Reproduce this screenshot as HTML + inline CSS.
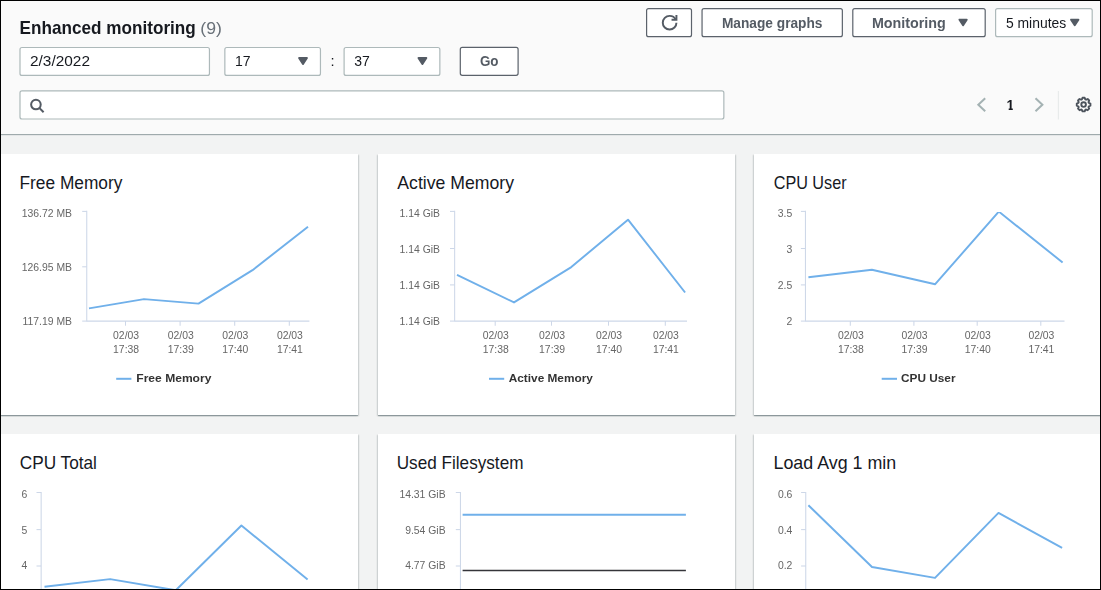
<!DOCTYPE html>
<html lang="en">
<head>
<meta charset="utf-8">
<title>Enhanced monitoring</title>
<style>
html,body{margin:0;padding:0;}
body{width:1101px;height:590px;overflow:hidden;position:relative;background:#f2f3f3;font-family:"Liberation Sans", Arial, sans-serif;color:#16191f;}
.abs{position:absolute;box-sizing:border-box;}
#frame{left:0;top:0;width:1101px;height:590px;border:1px solid #000;z-index:50;pointer-events:none;}
#header{left:0;top:0;width:1101px;height:134px;background:#fafafa;box-shadow:0 1px 1px 0 rgba(0,28,36,.34);}
.card{background:#fff;box-shadow:0 1px 1px 0 rgba(0,28,36,.28),1px 1px 1.5px 0 rgba(0,28,36,.14),-1px 1px 1.5px 0 rgba(0,28,36,.14);}
.h1{font-size:17.7px;font-weight:bold;fill:#16191f;}
.cnt{font-size:17.3px;fill:#687078;}
.bb{fill:#fff;stroke:#5b626b;stroke-width:1.2;}
.ib{fill:#fff;stroke:#adb9ba;stroke-width:1.2;}
.bt{font-size:14.3px;font-weight:bold;fill:#545b64;}
.it{font-size:14.7px;fill:#16191f;}
.pg{font-size:13.8px;font-weight:bold;fill:#16191f;}
.ar{fill:#545b64;stroke:#545b64;stroke-width:2;stroke-linejoin:round;}
svg{position:absolute;overflow:visible;}
svg text{font-family:"Liberation Sans", Arial, sans-serif;}
.al{font-size:10.4px;fill:#666666;}
.lg{font-size:11.6px;font-weight:bold;fill:#333333;}
.ct{font-size:18px;fill:#16191f;}
</style>
</head>
<body>
<div id="header" class="abs"></div>

<!-- header controls -->
<svg width="1101" height="140" viewBox="0 0 1101 140" style="left:0;top:0;z-index:2;">
  <text x="19.6" y="34.0" class="h1" textLength="176.2" lengthAdjust="spacingAndGlyphs">Enhanced monitoring</text>
  <text x="200.3" y="34.0" class="cnt" textLength="21.6" lengthAdjust="spacingAndGlyphs">(9)</text>

  <!-- refresh -->
  <rect x="646.6" y="8.6" width="44.9" height="28.1" rx="2" class="bb"/>
  <g transform="translate(661.8 14.9) scale(0.975)" fill="none" stroke="#545b64" stroke-width="2">
    <path d="M10 5h5V0"/><path d="M15 8a6.957 6.957 0 0 1-7 7 6.957 6.957 0 0 1-7-7 6.957 6.957 0 0 1 7-7 6.87 6.87 0 0 1 6.3 4"/>
  </g>
  <!-- manage graphs -->
  <rect x="702.05" y="8.6" width="140.3" height="28.1" rx="2" class="bb"/>
  <text x="721.9" y="27.7" class="bt" textLength="100.6" lengthAdjust="spacingAndGlyphs">Manage graphs</text>
  <!-- monitoring -->
  <rect x="852.8" y="8.6" width="132.4" height="28.1" rx="2" class="bb"/>
  <text x="871.9" y="27.6" class="bt" textLength="73.9" lengthAdjust="spacingAndGlyphs">Monitoring</text>
  <path d="M959.5 19.7h7.2l-3.6 5.4z" class="ar"/>
  <!-- 5 minutes -->
  <rect x="995.6" y="8.6" width="96.6" height="28.1" rx="2" class="ib"/>
  <text x="1005.9" y="27.8" class="it" textLength="60.3" lengthAdjust="spacingAndGlyphs">5 minutes</text>
  <path d="M1071.1 19.7h7.3l-3.65 5.4z" class="ar"/>

  <!-- date -->
  <rect x="20" y="47.5" width="189.45" height="27.9" rx="2" class="ib"/>
  <text x="30.0" y="66.4" class="it" textLength="60.0" lengthAdjust="spacingAndGlyphs">2/3/2022</text>
  <!-- hour -->
  <rect x="224.85" y="47.5" width="95.6" height="27.9" rx="2" class="ib"/>
  <text x="235.0" y="66.3" class="it" textLength="15.6" lengthAdjust="spacingAndGlyphs">17</text>
  <path d="M299.1 58h7.8l-3.9 6z" class="ar"/>
  <text x="332.5" y="66.3" class="it" text-anchor="middle">:</text>
  <!-- minute -->
  <rect x="344.1" y="47.5" width="95.75" height="27.9" rx="2" class="ib"/>
  <text x="354.3" y="66.3" class="it" textLength="15.6" lengthAdjust="spacingAndGlyphs">37</text>
  <path d="M418.5 58h7.8l-3.9 6z" class="ar"/>
  <!-- go -->
  <rect x="460.3" y="47.4" width="57.8" height="27.9" rx="2" class="bb"/>
  <text x="479.9" y="66.1" class="bt" textLength="18.6" lengthAdjust="spacingAndGlyphs">Go</text>

  <!-- search -->
  <rect x="20" y="90.8" width="703.85" height="28.2" rx="2" class="ib"/>
  <g transform="translate(29.2 97.8) scale(0.96)" fill="none" stroke="#545b64" stroke-width="2.1">
    <circle cx="7" cy="7" r="5"/><path d="M15 15l-4.5-4.5"/>
  </g>

  <!-- pagination -->
  <g transform="translate(970 88)">
    <path d="M15.2 10.3L8.3 16.8l6.9 6.5" fill="none" stroke="#a4b2b3" stroke-width="2"/>
    <path d="M65.5 10.3l6.9 6.5-6.9 6.5" fill="none" stroke="#a4b2b3" stroke-width="2"/>
    <clipPath id="one"><path d="M30 5h20v15.1h-7.2v3h-4.1v-3H30z"/></clipPath>
    <text x="36.6" y="21.7" class="pg" clip-path="url(#one)">1</text>
    <line x1="88.4" y1="3" x2="88.4" y2="31.5" stroke="#e8ebeb" stroke-width="1.2"/>
    <g transform="translate(113.6 16.6)" fill="none" stroke="#4c535c" stroke-width="1.9" stroke-linejoin="round">
      <path d="M5.23 -1.70 L6.82 -1.08 L6.82 1.08 L5.23 1.70 L4.90 2.50 L5.58 4.06 L4.06 5.58 L2.50 4.90 L1.70 5.23 L1.08 6.82 L-1.08 6.82 L-1.70 5.23 L-2.50 4.90 L-4.06 5.58 L-5.58 4.06 L-4.90 2.50 L-5.23 1.70 L-6.82 1.08 L-6.82 -1.08 L-5.23 -1.70 L-4.90 -2.50 L-5.58 -4.06 L-4.06 -5.58 L-2.50 -4.90 L-1.70 -5.23 L-1.08 -6.82 L1.08 -6.82 L1.70 -5.23 L2.50 -4.90 L4.06 -5.58 L5.58 -4.06 L4.90 -2.50Z"/>
      <circle cx="0" cy="0" r="2.3"/>
    </g>
  </g>
</svg>

<!-- cards -->
<div class="abs card" style="left:0px;top:154px;width:358px;height:261px;"></div>
<div class="abs card" style="left:378px;top:154px;width:357px;height:261px;"></div>
<div class="abs card" style="left:754px;top:154px;width:358px;height:261px;"></div>
<div class="abs card" style="left:0px;top:434px;width:358px;height:261px;"></div>
<div class="abs card" style="left:378px;top:434px;width:357px;height:261px;"></div>
<div class="abs card" style="left:754px;top:434px;width:358px;height:261px;"></div>

<svg width="1101" height="590" viewBox="0 0 1101 590" style="left:0;top:0;">
<text transform="translate(19.5 188.7) scale(0.962 1)" class="ct">Free Memory</text>
<text transform="translate(397.3 188.7) scale(0.981 1)" class="ct">Active Memory</text>
<text transform="translate(773.7 188.7) scale(0.9 1)" class="ct">CPU User</text>
<text transform="translate(19.7 468.9) scale(0.958 1)" class="ct">CPU Total</text>
<text transform="translate(396.7 468.9) scale(0.953 1)" class="ct">Used Filesystem</text>
<text transform="translate(773.5 468.9) scale(0.992 1)" class="ct">Load Avg 1 min</text>
</svg>
<svg width="1101" height="590" viewBox="0 0 1101 590" style="left:0;top:0;will-change:transform;">
<defs><clipPath id="clip0"><rect x="0" y="211.9" width="1101" height="112"/></clipPath><clipPath id="clip1"><rect x="0" y="492.9" width="1101" height="112"/></clipPath></defs>
<line x1="86.75" y1="210.8" x2="86.75" y2="321.6" stroke="#cdd7e8" stroke-width="1.05"/>
<line x1="82.2" y1="211.4" x2="86.8" y2="211.4" stroke="#cdd7e8" stroke-width="1.05"/>
<line x1="82.2" y1="266.8" x2="86.8" y2="266.8" stroke="#cdd7e8" stroke-width="1.05"/>
<line x1="82.2" y1="321.1" x2="86.8" y2="321.1" stroke="#cdd7e8" stroke-width="1.05"/>
<line x1="86.75" y1="321.1" x2="309.4" y2="321.1" stroke="#cdd7e8" stroke-width="1.05"/>
<line x1="125.5" y1="321.1" x2="125.5" y2="325.7" stroke="#cdd7e8" stroke-width="1.05"/>
<line x1="180.1" y1="321.1" x2="180.1" y2="325.7" stroke="#cdd7e8" stroke-width="1.05"/>
<line x1="234.7" y1="321.1" x2="234.7" y2="325.7" stroke="#cdd7e8" stroke-width="1.05"/>
<line x1="289.3" y1="321.1" x2="289.3" y2="325.7" stroke="#cdd7e8" stroke-width="1.05"/>
<text x="72.0" y="217.0" text-anchor="end" class="al">136.72 MB</text>
<text x="72.0" y="270.8" text-anchor="end" class="al">126.95 MB</text>
<text x="72.0" y="324.5" text-anchor="end" class="al">117.19 MB</text>
<text x="126.1" y="338.8" text-anchor="middle" class="al">02/03</text>
<text x="126.1" y="352.5" text-anchor="middle" class="al">17:38</text>
<text x="180.7" y="338.8" text-anchor="middle" class="al">02/03</text>
<text x="180.7" y="352.5" text-anchor="middle" class="al">17:39</text>
<text x="235.3" y="338.8" text-anchor="middle" class="al">02/03</text>
<text x="235.3" y="352.5" text-anchor="middle" class="al">17:40</text>
<text x="289.9" y="338.8" text-anchor="middle" class="al">02/03</text>
<text x="289.9" y="352.5" text-anchor="middle" class="al">17:41</text>
<path d="M89.0 308.4 L144.0 299.1 L198.5 303.6 L252.5 270.2 L308.0 226.8" fill="none" stroke="#70b0ea" stroke-width="1.95" stroke-linejoin="round" stroke-linecap="butt" clip-path="url(#clip0)"/>
<line x1="116.2" y1="378.8" x2="131.4" y2="378.8" stroke="#70b0ea" stroke-width="2"/>
<text x="136.3" y="382.2" class="lg" textLength="75.1" lengthAdjust="spacingAndGlyphs">Free Memory</text>
<line x1="454.65" y1="210.8" x2="454.65" y2="321.6" stroke="#cdd7e8" stroke-width="1.05"/>
<line x1="450.0" y1="211.4" x2="454.6" y2="211.4" stroke="#cdd7e8" stroke-width="1.05"/>
<line x1="450.0" y1="248.5" x2="454.6" y2="248.5" stroke="#cdd7e8" stroke-width="1.05"/>
<line x1="450.0" y1="284.9" x2="454.6" y2="284.9" stroke="#cdd7e8" stroke-width="1.05"/>
<line x1="450.0" y1="321.1" x2="454.6" y2="321.1" stroke="#cdd7e8" stroke-width="1.05"/>
<line x1="454.65" y1="321.1" x2="687.0" y2="321.1" stroke="#cdd7e8" stroke-width="1.05"/>
<line x1="495.2" y1="321.1" x2="495.2" y2="325.7" stroke="#cdd7e8" stroke-width="1.05"/>
<line x1="551.5" y1="321.1" x2="551.5" y2="325.7" stroke="#cdd7e8" stroke-width="1.05"/>
<line x1="608.5" y1="321.1" x2="608.5" y2="325.7" stroke="#cdd7e8" stroke-width="1.05"/>
<line x1="665.3" y1="321.1" x2="665.3" y2="325.7" stroke="#cdd7e8" stroke-width="1.05"/>
<text x="440.0" y="217.0" text-anchor="end" class="al">1.14 GiB</text>
<text x="440.0" y="252.8" text-anchor="end" class="al">1.14 GiB</text>
<text x="440.0" y="288.7" text-anchor="end" class="al">1.14 GiB</text>
<text x="440.0" y="324.5" text-anchor="end" class="al">1.14 GiB</text>
<text x="495.8" y="338.8" text-anchor="middle" class="al">02/03</text>
<text x="495.8" y="352.5" text-anchor="middle" class="al">17:38</text>
<text x="552.1" y="338.8" text-anchor="middle" class="al">02/03</text>
<text x="552.1" y="352.5" text-anchor="middle" class="al">17:39</text>
<text x="609.1" y="338.8" text-anchor="middle" class="al">02/03</text>
<text x="609.1" y="352.5" text-anchor="middle" class="al">17:40</text>
<text x="665.9" y="338.8" text-anchor="middle" class="al">02/03</text>
<text x="665.9" y="352.5" text-anchor="middle" class="al">17:41</text>
<path d="M457.0 274.9 L514.0 302.4 L571.3 267.1 L628.0 219.7 L685.1 292.5" fill="none" stroke="#70b0ea" stroke-width="1.95" stroke-linejoin="round" stroke-linecap="butt" clip-path="url(#clip0)"/>
<line x1="489.0" y1="378.8" x2="504.2" y2="378.8" stroke="#70b0ea" stroke-width="2"/>
<text x="508.7" y="382.2" class="lg" textLength="84.2" lengthAdjust="spacingAndGlyphs">Active Memory</text>
<line x1="805.45" y1="210.8" x2="805.45" y2="321.6" stroke="#cdd7e8" stroke-width="1.05"/>
<line x1="800.9" y1="211.4" x2="805.5" y2="211.4" stroke="#cdd7e8" stroke-width="1.05"/>
<line x1="800.9" y1="248.5" x2="805.5" y2="248.5" stroke="#cdd7e8" stroke-width="1.05"/>
<line x1="800.9" y1="284.9" x2="805.5" y2="284.9" stroke="#cdd7e8" stroke-width="1.05"/>
<line x1="800.9" y1="321.1" x2="805.5" y2="321.1" stroke="#cdd7e8" stroke-width="1.05"/>
<line x1="805.45" y1="321.1" x2="1064.5" y2="321.1" stroke="#cdd7e8" stroke-width="1.05"/>
<line x1="850.3" y1="321.1" x2="850.3" y2="325.7" stroke="#cdd7e8" stroke-width="1.05"/>
<line x1="913.9" y1="321.1" x2="913.9" y2="325.7" stroke="#cdd7e8" stroke-width="1.05"/>
<line x1="977.2" y1="321.1" x2="977.2" y2="325.7" stroke="#cdd7e8" stroke-width="1.05"/>
<line x1="1040.8" y1="321.1" x2="1040.8" y2="325.7" stroke="#cdd7e8" stroke-width="1.05"/>
<text x="792.2" y="217.0" text-anchor="end" class="al">3.5</text>
<text x="792.2" y="252.8" text-anchor="end" class="al">3</text>
<text x="792.2" y="288.7" text-anchor="end" class="al">2.5</text>
<text x="792.2" y="324.5" text-anchor="end" class="al">2</text>
<text x="850.9" y="338.8" text-anchor="middle" class="al">02/03</text>
<text x="850.9" y="352.5" text-anchor="middle" class="al">17:38</text>
<text x="914.5" y="338.8" text-anchor="middle" class="al">02/03</text>
<text x="914.5" y="352.5" text-anchor="middle" class="al">17:39</text>
<text x="977.8" y="338.8" text-anchor="middle" class="al">02/03</text>
<text x="977.8" y="352.5" text-anchor="middle" class="al">17:40</text>
<text x="1041.4" y="338.8" text-anchor="middle" class="al">02/03</text>
<text x="1041.4" y="352.5" text-anchor="middle" class="al">17:41</text>
<path d="M808.4 277.3 L871.9 269.7 L935.2 284.2 L998.8 211.6 L1062.6 262.6" fill="none" stroke="#70b0ea" stroke-width="1.95" stroke-linejoin="round" stroke-linecap="butt" clip-path="url(#clip0)"/>
<line x1="881.7" y1="378.8" x2="897.0" y2="378.8" stroke="#70b0ea" stroke-width="2"/>
<text x="901.1" y="382.2" class="lg" textLength="54.4" lengthAdjust="spacingAndGlyphs">CPU User</text>
<line x1="41.15" y1="491.9" x2="41.15" y2="602.7" stroke="#cdd7e8" stroke-width="1.05"/>
<line x1="36.5" y1="492.5" x2="41.1" y2="492.5" stroke="#cdd7e8" stroke-width="1.05"/>
<line x1="36.5" y1="529.6" x2="41.1" y2="529.6" stroke="#cdd7e8" stroke-width="1.05"/>
<line x1="36.5" y1="566.0" x2="41.1" y2="566.0" stroke="#cdd7e8" stroke-width="1.05"/>
<line x1="36.5" y1="602.2" x2="41.1" y2="602.2" stroke="#cdd7e8" stroke-width="1.05"/>
<line x1="41.15" y1="601.1" x2="309.4" y2="601.1" stroke="#cdd7e8" stroke-width="1.05"/>
<text x="27.2" y="497.7" text-anchor="end" class="al">6</text>
<text x="27.2" y="533.5" text-anchor="end" class="al">5</text>
<text x="27.2" y="569.4" text-anchor="end" class="al">4</text>
<text x="27.2" y="605.2" text-anchor="end" class="al">3</text>
<path d="M44.5 586.7 L110.1 579.1 L175.8 590.2 L241.4 525.5 L307.6 579.4" fill="none" stroke="#70b0ea" stroke-width="1.95" stroke-linejoin="round" stroke-linecap="butt" clip-path="url(#clip1)"/>
<line x1="460.45" y1="491.9" x2="460.45" y2="602.7" stroke="#cdd7e8" stroke-width="1.05"/>
<line x1="455.8" y1="492.5" x2="460.4" y2="492.5" stroke="#cdd7e8" stroke-width="1.05"/>
<line x1="455.8" y1="529.6" x2="460.4" y2="529.6" stroke="#cdd7e8" stroke-width="1.05"/>
<line x1="455.8" y1="566.0" x2="460.4" y2="566.0" stroke="#cdd7e8" stroke-width="1.05"/>
<line x1="455.8" y1="602.2" x2="460.4" y2="602.2" stroke="#cdd7e8" stroke-width="1.05"/>
<line x1="460.45" y1="601.1" x2="687.0" y2="601.1" stroke="#cdd7e8" stroke-width="1.05"/>
<text x="445.6" y="497.7" text-anchor="end" class="al">14.31 GiB</text>
<text x="445.6" y="533.5" text-anchor="end" class="al">9.54 GiB</text>
<text x="445.6" y="569.4" text-anchor="end" class="al">4.77 GiB</text>
<text x="445.6" y="605.2" text-anchor="end" class="al">0 GiB</text>
<path d="M462.6 514.8 L685.9 514.8" fill="none" stroke="#70b0ea" stroke-width="1.95" stroke-linejoin="round" stroke-linecap="butt" clip-path="url(#clip1)"/>
<path d="M462.6 570.5 L685.9 570.5" fill="none" stroke="#35353a" stroke-width="1.7" stroke-linejoin="round" stroke-linecap="butt" clip-path="url(#clip1)"/>
<line x1="805.75" y1="491.9" x2="805.75" y2="602.7" stroke="#cdd7e8" stroke-width="1.05"/>
<line x1="801.1" y1="492.5" x2="805.8" y2="492.5" stroke="#cdd7e8" stroke-width="1.05"/>
<line x1="801.1" y1="529.6" x2="805.8" y2="529.6" stroke="#cdd7e8" stroke-width="1.05"/>
<line x1="801.1" y1="566.0" x2="805.8" y2="566.0" stroke="#cdd7e8" stroke-width="1.05"/>
<line x1="801.1" y1="602.2" x2="805.8" y2="602.2" stroke="#cdd7e8" stroke-width="1.05"/>
<line x1="805.75" y1="601.1" x2="1064.5" y2="601.1" stroke="#cdd7e8" stroke-width="1.05"/>
<text x="792.4" y="497.7" text-anchor="end" class="al">0.6</text>
<text x="792.4" y="533.5" text-anchor="end" class="al">0.4</text>
<text x="792.4" y="569.4" text-anchor="end" class="al">0.2</text>
<text x="792.4" y="605.2" text-anchor="end" class="al">0</text>
<path d="M808.4 505.2 L872.0 567.0 L935.0 577.9 L998.5 512.9 L1062.1 547.9" fill="none" stroke="#70b0ea" stroke-width="1.95" stroke-linejoin="round" stroke-linecap="butt" clip-path="url(#clip1)"/>
</svg>

<div id="frame" class="abs"></div>
</body>
</html>
